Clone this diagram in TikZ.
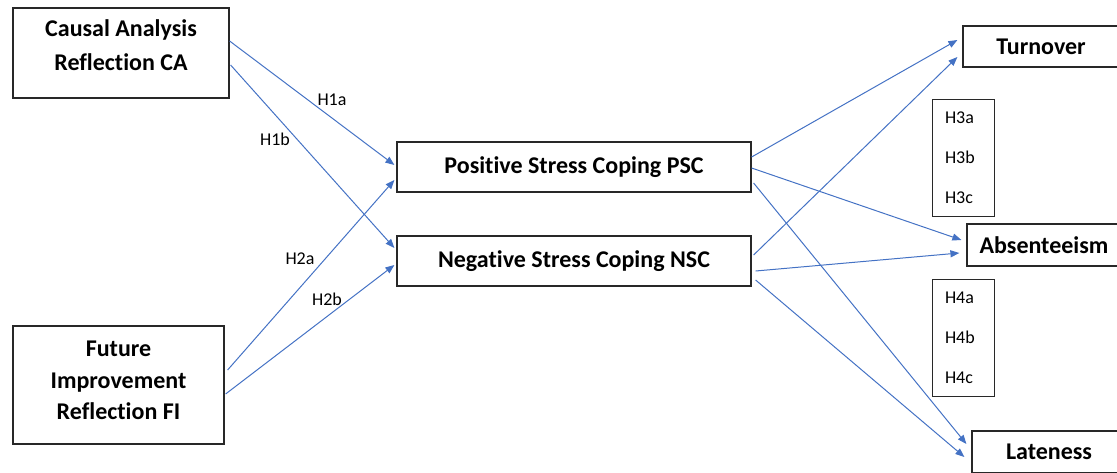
\documentclass[tikz,border=0pt]{standalone}
\usepackage{fontspec}
\setmainfont{Carlito}[Ligatures={NoCommon}]
\usetikzlibrary{arrows.meta,calc}
\definecolor{lineblue}{RGB}{68,114,196}
\definecolor{boxgray}{RGB}{40,40,40}
\tikzset{
  bigbox/.style={draw=boxgray,line width=1.2pt,align=center,font=\fontsize{24}{33}\selectfont\bfseries,inner sep=0pt},
  hbox/.style={draw=boxgray,line width=1pt,align=left,font=\fontsize{18}{40}\selectfont,minimum width=62pt,minimum height=117pt,inner sep=0pt},
  hlabel/.style={font=\fontsize{18}{20}\selectfont,inner sep=0pt},
  arr/.style={draw=lineblue,line width=1pt,-{Triangle[length=9pt,width=7pt]}}
}
\begin{document}
\begin{tikzpicture}[x=1pt,y=-1pt]
\useasboundingbox (0,0) rectangle (1117,472);
\node[bigbox,minimum width=216pt,minimum height=90pt] (CA) at (121,53) {\parbox[c][90pt][t]{216pt}{\vspace*{12pt}\centering\fontsize{24}{34}\selectfont Causal Analysis\\Reflection CA}};
\node[bigbox,minimum width=211pt,minimum height=118pt] (FI) at (118.5,385) {\parbox[c][118pt][t]{211pt}{\vspace*{15pt}\centering\fontsize{24}{31.5}\selectfont Future\\Improvement\\Reflection FI}};
\node[bigbox,minimum width=354pt,minimum height=50pt] (PSC) at (574,167) {Positive Stress Coping PSC};
\node[bigbox,minimum width=354pt,minimum height=50pt] (NSC) at (574,261) {Negative Stress Coping NSC};
\node[bigbox,minimum width=156pt,minimum height=41pt] (TO) at (1041,46.5) {Turnover};
\node[bigbox,minimum width=154pt,minimum height=42pt] (AB) at (1044,245) {Absenteeism};
\node[bigbox,minimum width=154pt,minimum height=42pt] (LA) at (1049,452) {Lateness};
\node[hbox] (H3) at (963,157.5) {\parbox{36pt}{H3a\\H3b\\H3c}};
\node[hbox] (H4) at (963,337.5) {\parbox{36pt}{H4a\\H4b\\H4c}};

\draw[arr] ($(CA.east)+(0,-12)$) -- ($(PSC.west)+(-2,-2)$);
\draw[arr] ($(CA.east)+(1,12)$) -- ($(NSC.west)+(-2,-13)$);
\draw[arr] ($(FI.east)+(3,-15)$) -- ($(PSC.west)+(-2,13)$);
\draw[arr] ($(FI.east)+(1,9)$) -- ($(NSC.west)+(-2,4)$);

\draw[arr] ($(PSC.east)+(0,-10)$) -- ($(TO.west)+(-5,-6.5)$);
\draw[arr] ($(NSC.east)+(2,-6)$) -- ($(TO.west)+(-5,10.5)$);
\draw[arr] ($(PSC.east)+(0,1)$) -- ($(AB.west)+(-5,-5)$);
\draw[arr] ($(NSC.east)+(4,10)$) -- ($(AB.west)+(-7,8)$);
\draw[arr] ($(PSC.east)+(2,16)$) -- ($(LA.west)+(-5,-8)$);
\draw[arr] ($(NSC.east)+(4,19)$) -- ($(LA.west)+(-7,5)$);

\node[hlabel] (l1a) at (332,100) {H1a};
\node[hlabel] (l1b) at (275,139) {H1b};
\node[hlabel] (l2a) at (300,259) {H2a};
\node[hlabel] (l2b) at (327,299) {H2b};
\end{tikzpicture}
\end{document}
